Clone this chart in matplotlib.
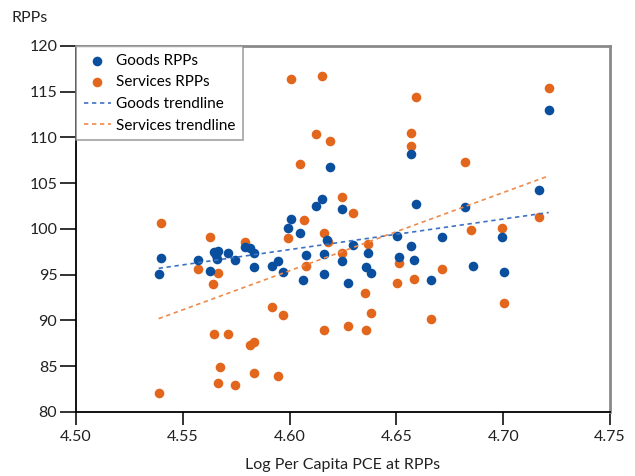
import matplotlib
matplotlib.use('Agg')
import matplotlib.pyplot as plt

plt.rcParams['font.family'] = ['Lato', 'DejaVu Sans']

# Goods RPPs (log per capita PCE, RPP)
goods_x = [4.6005, 4.5991, 4.6050, 4.6568, 4.6188, 4.6152, 4.6124, 4.6247,
           4.6592, 4.6820, 4.6504, 4.6713, 4.6174, 4.7213, 4.7169, 4.6994,
           4.5793, 4.5815, 4.5646, 4.5666, 4.5655, 4.5712, 4.5835, 4.5398,
           4.5573, 4.5662, 4.5743, 4.6077, 4.5944, 4.5916, 4.5835, 4.5629,
           4.5968, 4.5387, 4.6064, 4.6298, 4.6568, 4.6160, 4.6368, 4.6512,
           4.6247, 4.6584, 4.6356, 4.6382, 4.6161, 4.6273, 4.6663, 4.6857,
           4.7002]
goods_y = [101.06, 100.14, 99.56, 108.16, 106.78, 103.25, 102.55, 102.15,
           102.73, 102.44, 99.27, 99.09, 98.80, 113.01, 104.23, 99.13,
           98.07, 97.89, 97.52, 97.63, 97.19, 97.34, 97.38, 96.86,
           96.58, 96.72, 96.58, 97.19, 96.47, 95.96, 95.88, 95.44,
           95.27, 95.08, 94.43, 98.25, 98.11, 97.30, 97.41, 96.97,
           96.50, 96.58, 95.85, 95.16, 95.08, 94.07, 94.43, 95.96,
           95.33]

# Services RPPs
serv_x = [4.6005, 4.6050, 4.5398, 4.6066, 4.5629, 4.5791, 4.6152, 4.6592,
          4.6124, 4.6188, 4.6568, 4.6568, 4.6820, 4.6247, 4.6298, 4.6160,
          4.6849, 4.7213, 4.7169, 4.6994, 4.5991, 4.6077, 4.5573, 4.5663,
          4.5641, 4.5916, 4.5968, 4.5646, 4.5712, 4.5815, 4.5835, 4.5674,
          4.5835, 4.5944, 4.5666, 4.5743, 4.5387, 4.6180, 4.6368, 4.6245,
          4.6512, 4.6713, 4.6504, 4.6584, 4.6353, 4.6382, 4.6663, 4.6162,
          4.6273, 4.6356, 4.7002]
serv_y = [116.36, 107.14, 100.66, 100.98, 99.16, 98.61, 116.75, 114.43,
          110.38, 109.58, 110.49, 109.07, 107.29, 103.46, 101.75, 99.53,
          99.89, 115.41, 101.31, 100.14, 99.02, 95.99, 95.63, 95.22,
          93.96, 91.51, 90.63, 88.49, 88.49, 87.29, 87.62, 84.95,
          84.26, 83.97, 83.17, 82.95, 82.08, 98.58, 98.33, 97.41,
          96.28, 95.66, 94.07, 94.54, 93.04, 90.82, 90.13, 88.93,
          89.40, 88.93, 91.95]

# trendline end points
trend_x = [4.5387, 4.7213]
goods_trend_y = [95.7, 101.8]
serv_trend_y = [90.2, 105.8]

BLUE = '#0a4f9e'
ORANGE = '#e2661c'

fig = plt.figure(figsize=(6.35, 4.76), dpi=100)
ax = fig.add_axes([0.1197, 0.1345, 0.8409, 0.7689])

ax.scatter(goods_x, goods_y, s=48, color=BLUE, label='Goods RPPs',
           zorder=4, linewidths=0)
ax.scatter(serv_x, serv_y, s=48, color=ORANGE, label='Services RPPs',
           zorder=3, linewidths=0)
ax.plot(trend_x, goods_trend_y, color='#3d72c2', linestyle=(0, (2.6, 2.2)),
        linewidth=1.2, label='Goods trendline', zorder=5)
ax.plot(trend_x, serv_trend_y, color='#ee8a4c', linestyle=(0, (2.6, 2.2)),
        linewidth=1.2, label='Services trendline', zorder=5)

ax.set_xlim(4.50, 4.75)
ax.set_ylim(80, 120)
ax.set_xticks([4.50, 4.55, 4.60, 4.65, 4.70, 4.75])
ax.set_xticklabels(['4.50', '4.55', '4.60', '4.65', '4.70', '4.75'])
ax.set_yticks(range(80, 121, 5))

for side in ('left', 'bottom'):
    ax.spines[side].set_color('black')
    ax.spines[side].set_linewidth(1.3)
for side in ('top', 'right'):
    ax.spines[side].set_color('#8a8a8a')
    ax.spines[side].set_linewidth(2)

ax.tick_params(axis='y', length=11.5, width=1.3, pad=2, labelsize=11.5,
               colors='#222222')
ax.tick_params(axis='x', length=9, width=1.3, pad=4, labelsize=11.5,
               colors='#222222')

ax.set_xlabel('Log Per Capita PCE at RPPs', fontsize=11.5, color='#222222',
              labelpad=10)
fig.text(0.018, 0.963, 'RPPs', fontsize=11.5, color='#222222',
         ha='left', va='center')

leg = ax.legend(loc='upper left', fontsize=11, frameon=True, fancybox=False,
                borderaxespad=0, handlelength=1.8, handletextpad=0.3,
                labelspacing=0.5, borderpad=0.5)
leg.get_frame().set_edgecolor('#8a8a8a')
leg.get_frame().set_linewidth(1.2)

plt.savefig('out.png', dpi=100)
